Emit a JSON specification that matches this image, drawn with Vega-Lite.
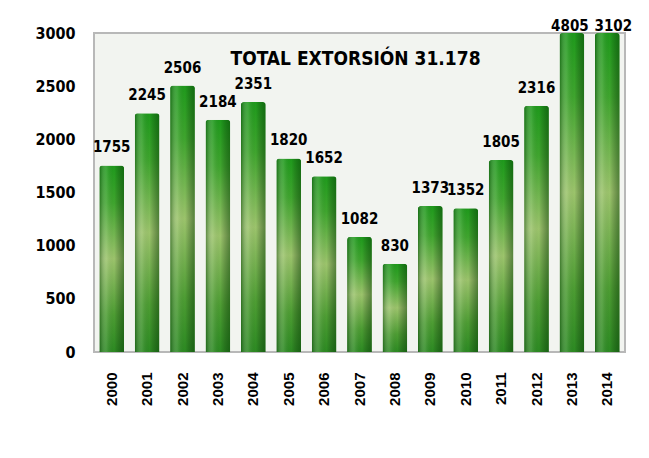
{
  "$schema": "https://vega.github.io/schema/vega-lite/v6.json",
  "autosize": {"type": "none"},
  "width": 531,
  "height": 319,
  "padding": {"left": 94, "top": 33, "right": 24, "bottom": 106},
  "background": "white",
  "config": {
    "view": {"fill": "#f2f4f0", "stroke": "#b8b8b8", "strokeWidth": 2}
  },
  "title": {
    "text": "TOTAL EXTORSIÓN  31.178",
    "anchor": "middle",
    "offset": -50,
    "dx": -4,
    "fontSize": 19,
    "font": "Liberation Sans Narrow, DejaVu Sans Condensed, sans-serif",
    "fontWeight": "bold",
    "color": "#000000"
  },
  "data": {
    "values": [
      {"year": "2000", "value": 1755},
      {"year": "2001", "value": 2245},
      {"year": "2002", "value": 2506},
      {"year": "2003", "value": 2184},
      {"year": "2004", "value": 2351},
      {"year": "2005", "value": 1820},
      {"year": "2006", "value": 1652},
      {"year": "2007", "value": 1082},
      {"year": "2008", "value": 830},
      {"year": "2009", "value": 1373},
      {"year": "2010", "value": 1352},
      {"year": "2011", "value": 1805},
      {"year": "2012", "value": 2316},
      {"year": "2013", "value": 4805},
      {"year": "2014", "value": 3102}
    ]
  },
  "encoding": {
    "x": {
      "field": "year",
      "type": "ordinal",
      "scale": {"paddingInner": 0.3, "paddingOuter": 0.15},
      "axis": {
        "title": null,
        "labelAngle": -90,
        "labelPadding": 20,
        "domain": false,
        "ticks": false,
        "labelFont": "Liberation Sans, Arial, sans-serif",
        "labelFontWeight": "bold",
        "labelFontSize": 15,
        "labelColor": "#000000"
      }
    },
    "y": {
      "field": "value",
      "type": "quantitative",
      "scale": {"domain": [0, 3000], "clamp": true, "nice": false},
      "axis": {
        "title": null,
        "values": [0, 500, 1000, 1500, 2000, 2500, 3000],
        "format": "d",
        "grid": false,
        "domain": false,
        "ticks": false,
        "labelPadding": 19,
        "labelFont": "Liberation Sans Narrow, DejaVu Sans Condensed, sans-serif",
        "labelFontWeight": "bold",
        "labelFontSize": 16,
        "labelColor": "#000000"
      }
    }
  },
  "layer": [
    {
      "mark": {
        "type": "bar",
        "cornerRadiusTopLeft": 3,
        "cornerRadiusTopRight": 3,
        "color": {
          "gradient": "linear",
          "x1": 0, "y1": 0, "x2": 0, "y2": 1,
          "stops": [
            {"offset": 0, "color": "#1f9a1c"},
            {"offset": 0.2, "color": "#3fa52e"},
            {"offset": 0.5, "color": "#9cc46c"},
            {"offset": 0.8, "color": "#4d9d33"},
            {"offset": 1, "color": "#2c8a22"}
          ]
        }
      }
    },
    {
      "mark": {
        "type": "bar",
        "cornerRadiusTopLeft": 3,
        "cornerRadiusTopRight": 3,
        "color": {
          "gradient": "linear",
          "x1": 0, "y1": 0, "x2": 1, "y2": 0,
          "stops": [
            {"offset": 0, "color": "rgba(0,50,0,0.45)"},
            {"offset": 0.3, "color": "rgba(255,255,255,0.12)"},
            {"offset": 0.6, "color": "rgba(0,0,0,0)"},
            {"offset": 1, "color": "rgba(0,50,0,0.45)"}
          ]
        }
      }
    },
    {
      "mark": {
        "type": "text",
        "dy": {"expr": "datum.value > 3000 ? -7 : -18"},
        "dx": {"expr": "datum.year == '2014' ? 6 : (datum.year == '2013' ? -2 : 0)"},
        "font": "Liberation Sans Narrow, DejaVu Sans Condensed, sans-serif",
        "fontWeight": "bold",
        "fontSize": 15,
        "color": "#000000",
        "baseline": "middle"
      },
      "encoding": {
        "text": {"field": "value", "type": "quantitative", "format": "d"}
      }
    }
  ]
}
